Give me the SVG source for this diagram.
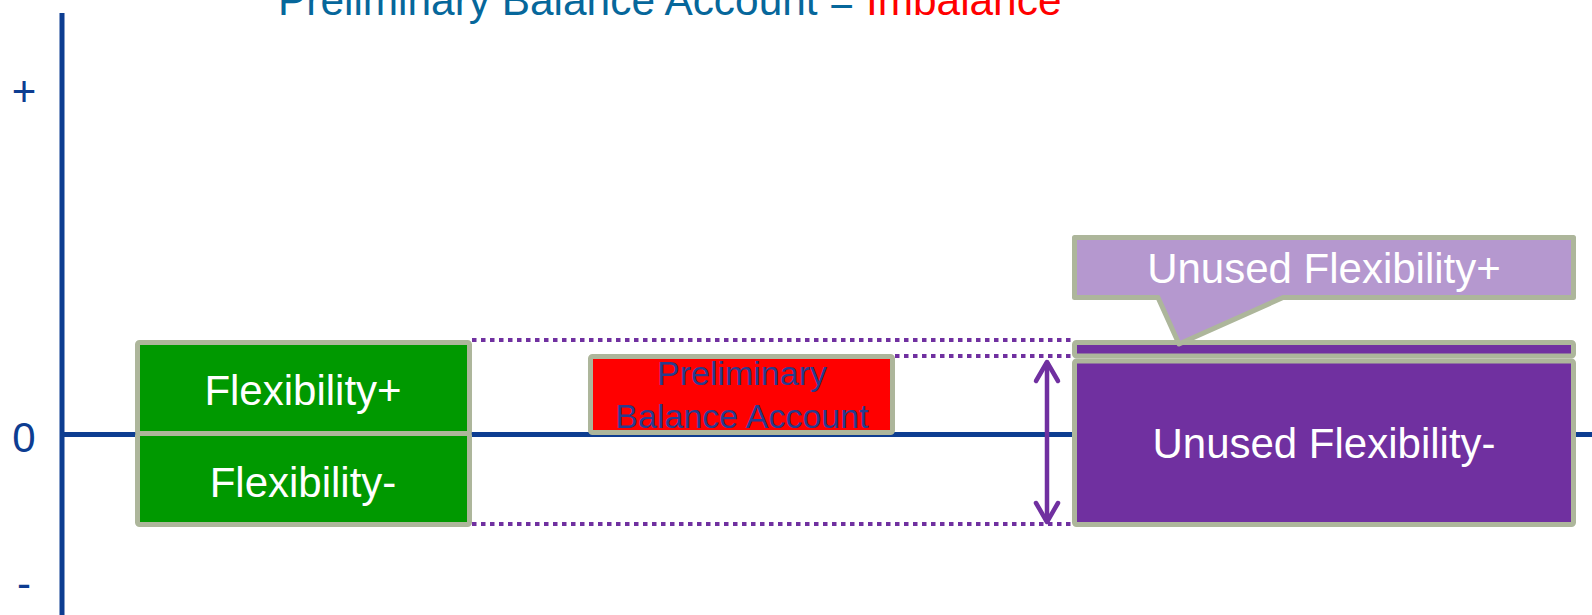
<svg xmlns="http://www.w3.org/2000/svg" width="1592" height="615" viewBox="0 0 1592 615">
<style>
text{font-family:"Liberation Sans",Arial,sans-serif;font-size:42px}
.box{stroke:#ADB69B;stroke-width:5;stroke-linejoin:round}
.lbl{fill:#FFFFFF;text-anchor:middle}
.ax{fill:#0D3D91;text-anchor:middle}
.dot{stroke:#7030A0;stroke-width:4;stroke-dasharray:4.5 4.5;fill:none}
</style>
<defs>
<marker id="chev" markerUnits="userSpaceOnUse" viewBox="-25 -15 30 30" markerWidth="30" markerHeight="30" refX="0" refY="0" orient="auto-start-reverse" overflow="visible">
<path d="M-19,-11 L0,0 L-19,11" fill="none" stroke="#7030A0" stroke-width="4.5" stroke-linecap="round" stroke-linejoin="round"/>
</marker>
</defs>
<rect width="1592" height="615" fill="#FFFFFF"/>
<g id="title"><text x="278" y="15" fill="#06679B" style="font-size:42.4px">Preliminary Balance Account = <tspan fill="#FF0000">Imbalance</tspan></text></g>
<g id="axes">
<line x1="62" y1="13" x2="62" y2="615" stroke="#0D3D91" stroke-width="5"/>
<line x1="62" y1="434.5" x2="1592" y2="434.5" stroke="#0D3D91" stroke-width="5"/>
<text class="ax" x="24" y="106">+</text>
<text class="ax" x="24" y="452">0</text>
<text class="ax" x="24" y="598">-</text>
</g>
<g id="connectors">
<line class="dot" x1="472" y1="340" x2="1072" y2="340"/>
<line class="dot" x1="895" y1="356" x2="1072" y2="356"/>
<line class="dot" x1="472" y1="524" x2="1072" y2="524"/>
<line x1="1047" y1="362" x2="1047" y2="522" stroke="#7030A0" stroke-width="4.5" marker-start="url(#chev)" marker-end="url(#chev)"/>
</g>
<g id="flex-plus">
<rect class="box" x="137.5" y="342.5" width="332" height="91" rx="2" fill="#009900"/>
<text class="lbl" x="303" y="405">Flexibility+</text>
</g>
<g id="flex-minus">
<rect class="box" x="137.5" y="433.5" width="332" height="91" rx="2" fill="#009900"/>
<text class="lbl" x="303" y="497">Flexibility-</text>
</g>
<g id="prelim">
<rect class="box" x="590.5" y="356.5" width="302" height="76" rx="2" fill="#FF0000"/>
<text x="742" y="385" fill="#283C8E" text-anchor="middle" style="font-size:34px">Preliminary</text>
<text x="742" y="428" fill="#283C8E" text-anchor="middle" style="font-size:34px">Balance Account</text>
</g>
<g id="unused-plus-bar">
<rect class="box" x="1074.5" y="342.5" width="499" height="13.5" rx="2" fill="#7030A0"/>
</g>
<g id="unused-minus">
<rect class="box" x="1074.5" y="361" width="499" height="163.5" rx="2" fill="#7030A0"/>
<text class="lbl" x="1324" y="458">Unused Flexibility-</text>
</g>
<g id="unused-plus-callout">
<path class="box" d="M1074.5,237.5 H1573.5 V297.5 H1283 L1179,344 L1158,297.5 H1074.5 Z" fill="#B598CF"/>
<text class="lbl" x="1324" y="283">Unused Flexibility+</text>
</g>
</svg>
